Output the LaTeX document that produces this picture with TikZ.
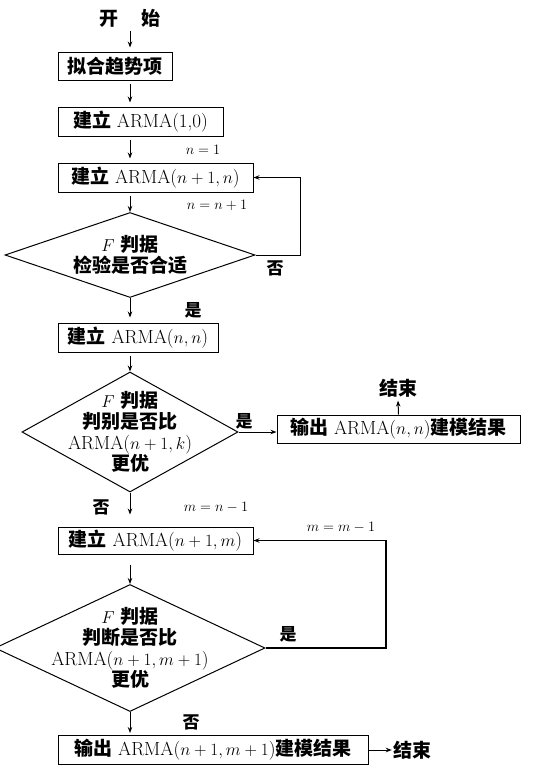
\documentclass[tikz,border=0pt]{standalone}
\usepackage{fontspec}
\newfontfamily\cjk{Noto Sans CJK SC}
\usetikzlibrary{shapes.geometric,arrows.meta}
\newcommand{\zh}[1]{{\cjk\bfseries #1}}
\begin{document}
\begin{tikzpicture}[x=1pt,y=-1pt,
  font=\fontsize{19}{21}\selectfont,
  box/.style={draw,line width=1pt,inner sep=0pt,minimum height=29pt},
  dia/.style={draw,diamond,line width=1pt,inner sep=0pt},
  arr/.style={-{Stealth[length=6pt,width=4.5pt]},line width=1pt},
  lbl/.style={font=\fontsize{15}{17}\selectfont},
  lblz/.style={font=\fontsize{17}{19}\selectfont},
  dtxt/.style={align=center,font=\fontsize{19}{21}\selectfont}]
\useasboundingbox (0,0) rectangle (534,766);
\coordinate (col) at (130,0);
% nodes
\node (start) at (130,18) {\zh{开}\hspace{24pt}\zh{始}};
\node[box,minimum width=114pt,minimum height=28pt] (b1) at (115,66) {\zh{拟合趋势项}};
\node[box,minimum width=165pt] (b2) at (140.5,121.5) {\zh{建立} ARMA(1,0)};
\node[box,minimum width=195pt] (b3) at (155.5,177.5) {\zh{建立} ARMA($n+1,n$)};
\node[dia,minimum width=250pt,minimum height=85pt,
  label={[dtxt]center:{$F$ \zh{判据}\\\zh{检验是否合适}}}] (d1) at (130,255) {};
\node[box,minimum width=160pt] (b4) at (138,337.5) {\zh{建立} ARMA($n,n$)};
\node[dia,minimum width=216pt,minimum height=120pt,
  label={[dtxt]center:{$F$ \zh{判据}\\\zh{判别是否比}\\ARMA($n+1,k$)\\\zh{更优}}}] (d2) at (130,432) {};
\node[box,minimum width=243pt,minimum height=28pt] (b5) at (398.5,429) {\zh{输出} ARMA($n,n$)\zh{建模结果}};
\node (end1) at (398,388) {\zh{结束}};
\node[box,minimum width=195pt,minimum height=27pt] (b6) at (155.5,540.5) {\zh{建立} ARMA($n+1,m$)};
\node[dia,minimum width=270pt,minimum height=127pt,
  label={[dtxt]center:{$F$ \zh{判据}\\\zh{判断是否比}\\ARMA($n+1,m+1$)\\\zh{更优}}}] (d3) at (130,648) {};
\node[box,minimum width=310pt,minimum height=29pt] (b7) at (213,750) {\zh{输出} ARMA($n+1,m+1$)\zh{建模结果}};
\node[inner sep=1pt] (end2) at (412,750) {\zh{结束}};
% labels
\node[lbl] (l1) at (203,150) {$n=1$};
\node[lbl] (l2) at (217,205) {$n=n+1$};
\node[lblz] (no1) at (275,268) {\zh{否}};
\node[lblz] (yes1) at (193,310) {\zh{是}};
\node[lblz] (yes2) at (244,421) {\zh{是}};
\node[lblz] (no2) at (101,507) {\zh{否}};
\node[lbl] (l3) at (216,507) {$m=n-1$};
\node[lbl] (l4) at (341,527) {$m=m-1$};
\node[lblz] (yes3) at (288,634) {\zh{是}};
\node[lblz] (no3) at (191,722) {\zh{否}};
% connectors
\draw[arr,shorten >=4pt] (start.south -| col) -- (b1.north -| col);
\draw[arr,shorten <=3pt,shorten >=4pt] (b1.south -| col) -- (b2.north -| col);
\draw[arr,shorten <=3pt,shorten >=4pt] (b2.south -| col) -- (b3.north -| col);
\draw[arr,shorten <=3pt] (b3.south -| col) -- (d1.north);
\draw[arr,shorten >=5pt] (d1.south) -- (b4.north -| col);
\draw[arr,shorten <=3pt] (b4.south -| col) -- (d2.north);
\draw[arr] (d2.east) -- (d2.east -| b5.west);
\draw[arr] (b5.north) -- (end1.south);
\draw[arr,shorten >=12pt] (d2.south) -- (b6.north -| col);
\draw[arr,shorten <=10pt] (b6.south -| col) -- (d3.north);
\draw[arr,shorten >=2pt] (d3.south) -- (b7.north -| col);
\draw[arr] (b7.east) -- (end2.west);
\coordinate (r1) at (300,255);
\draw[arr] (d1.east) -- (r1) |- (b3.east);
\coordinate (r2) at (386,648);
\draw[arr,line width=1.4pt] (d3.east) -- (r2) |- (b6.east);
\end{tikzpicture}
\end{document}
